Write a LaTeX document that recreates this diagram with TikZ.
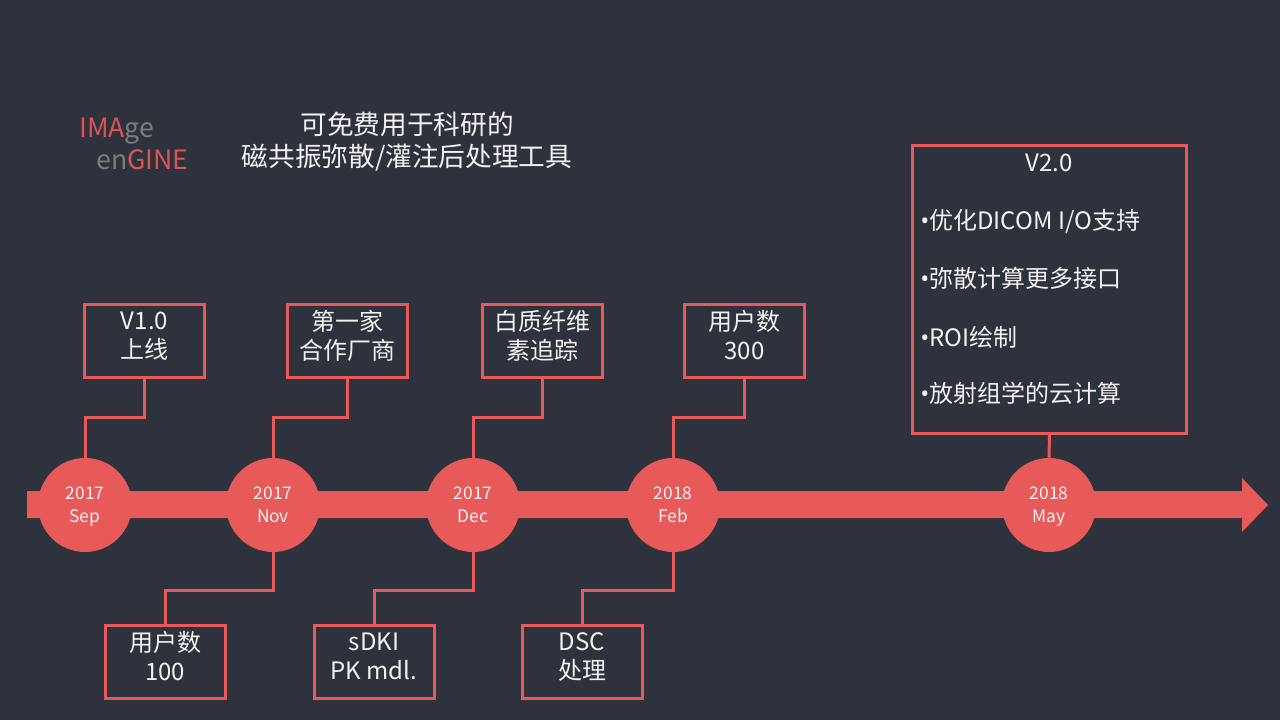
\documentclass[tikz,border=0pt]{standalone}
\usepackage{fontspec}
\setmainfont{Noto Sans CJK SC}
\newfontfamily\bulletfont{Open Sans}
\usepackage{tikz}
\usetikzlibrary{shapes.geometric, arrows}
\definecolor{bgdark}{RGB}{46,50,60}
\definecolor{tlred}{RGB}{232,90,90}
\definecolor{logored}{RGB}{222,84,84}
\definecolor{logogray}{RGB}{125,125,125}
\definecolor{txtwhite}{RGB}{242,242,242}
\newcommand{\itembullet}{{\bulletfont •}}
\tikzstyle{datenode} = [circle, fill=tlred, minimum size=70.5pt, inner sep=0pt, text=txtwhite, align=center, text depth=0pt, font=\fontsize{13}{17}\selectfont]
\tikzstyle{eventbox} = [rectangle, draw=tlred, line width=2.25pt, fill=bgdark, minimum width=90pt, minimum height=55pt, inner sep=0pt, text=txtwhite, align=center, text depth=9pt, font=\fontsize{18}{22}\selectfont]
\tikzstyle{itemtext} = [anchor=west, inner sep=0pt, text=txtwhite, font=\fontsize{18}{22}\selectfont]
\tikzstyle{link} = [draw=tlred, line width=2.25pt]

\begin{document}
\begin{tikzpicture}[x=0.75pt, y=-0.75pt]
	\fill[bgdark] (0,0) rectangle (1280,720);
	\node[anchor=west, inner sep=0pt, font=\fontsize{20}{24}\selectfont] (logoa) at (79,131) {\textcolor{logored}{IMA}\textcolor{logogray}{ge}};
	\node[anchor=west, inner sep=0pt, font=\fontsize{20}{24}\selectfont] (logob) at (96,160) {\textcolor{logogray}{en}\textcolor{logored}{GINE}};
	\node[text=txtwhite, align=center, font=\fontsize{20}{24}\selectfont] (title) at (407,142) {可免费用于科研的\\磁共振弥散/灌注后处理工具};

	\fill[tlred] (27,491) -- (1242,491) -- (1242,478) -- (1268,505) -- (1242,532) -- (1242,518) -- (27,518) -- cycle;

	\node[datenode] (c1) at (85,505) {2017\\Sep};
	\node[datenode] (c2) at (273,505) {2017\\Nov};
	\node[datenode] (c3) at (473,505) {2017\\Dec};
	\node[datenode] (c4) at (673,505) {2018\\Feb};
	\node[datenode] (c5) at (1049,505) {2018\\May};

	\node[eventbox] (t1) at (144.5,341) {V1.0\\上线};
	\node[eventbox] (t2) at (347.5,341) {第一家\\合作厂商};
	\node[eventbox] (t3) at (542.5,341) {白质纤维\\素追踪};
	\node[eventbox] (t4) at (744.5,341) {用户数\\300};
	\node[eventbox] (b1) at (165,662) {用户数\\100};
	\node[eventbox] (b2) at (374,662) {sDKI\\PK mdl.};
	\node[eventbox] (b3) at (582,662) {DSC\\处理};

	\node[eventbox, minimum width=205.5pt, minimum height=216pt] (v2) at (1049.5,289.5) {};
	\node[text=txtwhite, inner sep=0pt, font=\fontsize{18}{22}\selectfont] (v2title) at (1049,163) {V2.0};
	\node[itemtext] (v2a) at (920,222) {\itembullet 优化DICOM I/O支持};
	\node[itemtext] (v2b) at (920,278) {\itembullet 弥散计算更多接口};
	\node[itemtext] (v2c) at (920,337) {\itembullet ROI绘制};
	\node[itemtext] (v2d) at (920,393) {\itembullet 放射组学的云计算};

	\draw[link] (t1.south) -- ++(0,38) -| (c1.north);
	\draw[link] (t2.south) -- ++(0,38) -| (c2.north);
	\draw[link] (t3.south) -- ++(0,38) -| (c3.north);
	\draw[link] (t4.south) -- ++(0,38) -| (c4.north);
	\draw[link] (c2.south) -- ++(0,38) -| (b1.north);
	\draw[link] (c3.south) -- ++(0,38) -| (b2.north);
	\draw[link] (c4.south) -- ++(0,38) -| (b3.north);
	\draw[link] (v2.south) -- (c5.north);
\end{tikzpicture}
\end{document}
